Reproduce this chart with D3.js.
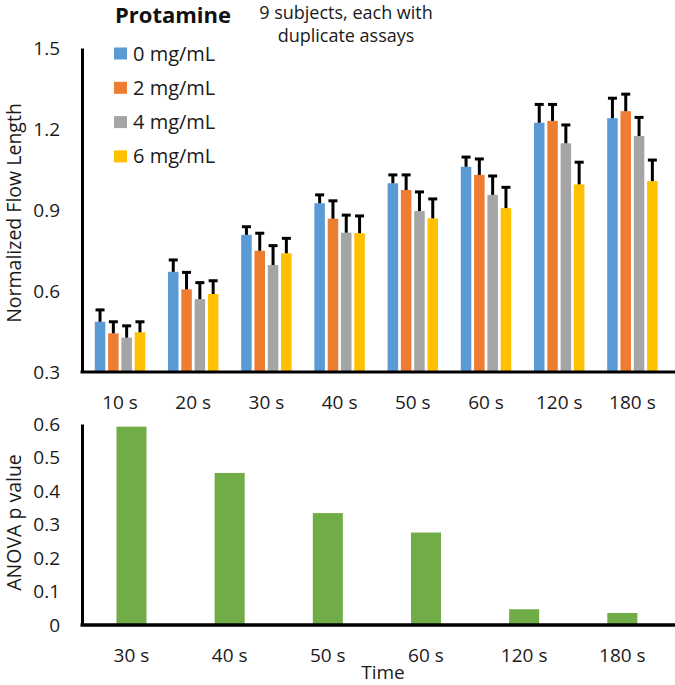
<!DOCTYPE html>
<html>
<head>
<meta charset="utf-8">
<script src="https://cdn.jsdelivr.net/npm/d3@7"></script>
<style>
  html, body { margin: 0; padding: 0; background: #fff; }
  svg { display: block; font-family: "Open Sans", "Noto Sans", sans-serif; }
</style>
</head>
<body>
<svg id="chart" width="675" height="685"></svg>
<script>
// ---------- DATA ----------
const categories = ["10 s", "20 s", "30 s", "40 s", "50 s", "60 s", "120 s", "180 s"];
const seriesNames = ["0 mg/mL", "2 mg/mL", "4 mg/mL", "6 mg/mL"];
const seriesColors = ["#5B9BD5", "#ED7D31", "#A5A5A5", "#FFC000"];
const mean0 = [0.486, 0.671, 0.808, 0.925, 0.999, 1.060, 1.223, 1.240];
const mean2 = [0.443, 0.606, 0.749, 0.868, 0.974, 1.030, 1.230, 1.266];
const mean4 = [0.427, 0.570, 0.696, 0.816, 0.896, 0.956, 1.147, 1.174];
const mean6 = [0.447, 0.589, 0.740, 0.814, 0.869, 0.907, 0.995, 1.007];
const err0 = [0.044, 0.044, 0.030, 0.031, 0.031, 0.036, 0.068, 0.074];
const err2 = [0.043, 0.063, 0.065, 0.066, 0.056, 0.059, 0.061, 0.063];
const err4 = [0.044, 0.061, 0.072, 0.065, 0.071, 0.070, 0.068, 0.069];
const err6 = [0.039, 0.049, 0.055, 0.064, 0.072, 0.077, 0.082, 0.078];
const topTicks = [0.3, 0.6, 0.9, 1.2, 1.5];

const pCategories = ["30 s", "40 s", "50 s", "60 s", "120 s", "180 s"];
const pValues = [0.592, 0.454, 0.334, 0.276, 0.047, 0.036];
const pTicks = [0, 0.1, 0.2, 0.3, 0.4, 0.5, 0.6];
const pColor = "#70AD47";

const means = [mean0, mean2, mean4, mean6];
const errs = [err0, err2, err4, err6];

// ---------- LAYOUT ----------
const W = 675;
const svg = d3.select("#chart");
const axisX = 82;

// ---------- TOP CHART ----------
const yTop = d3.scaleLinear().domain([0.3, 1.5]).range([372, 48]);
const x0 = d3.scaleBand().domain(categories).range([83.4, 669])
  .paddingInner(0.311).paddingOuter(0.1555);
const x1 = d3.scaleBand().domain(seriesNames).range([0, x0.bandwidth()])
  .paddingInner(0.21).paddingOuter(0);

const gTop = svg.append("g");
const groups = gTop.selectAll("g.grp").data(categories).join("g")
  .attr("transform", d => `translate(${x0(d)},0)`);

groups.each(function(cat, ci) {
  const g = d3.select(this);
  seriesNames.forEach((s, si) => {
    const v = means[si][ci];
    const e = errs[si][ci];
    const bx = x1(s);
    const bw = x1.bandwidth();
    g.append("rect")
      .attr("x", bx).attr("width", bw)
      .attr("y", yTop(v)).attr("height", yTop(0.3) - yTop(v))
      .attr("fill", seriesColors[si]);
    const cx = bx + bw / 2;
    g.append("line")
      .attr("x1", cx).attr("x2", cx)
      .attr("y1", yTop(v)).attr("y2", yTop(v + e))
      .attr("stroke", "#000").attr("stroke-width", 3);
    g.append("line")
      .attr("x1", cx - 4.5).attr("x2", cx + 4.5)
      .attr("y1", yTop(v + e)).attr("y2", yTop(v + e))
      .attr("stroke", "#000").attr("stroke-width", 3);
  });
});

// y axis (top)
const yAxTop = gTop.append("g").attr("transform", `translate(${axisX},0)`)
  .call(d3.axisLeft(yTop).tickValues(topTicks).tickFormat(d3.format(".1f"))
    .tickSize(0).tickPadding(22));
yAxTop.select(".domain").attr("stroke", "#000").attr("stroke-width", 3);
yAxTop.selectAll("text").attr("font-size", 19).attr("fill", "#1a1a1a")
  .attr("font-family", "Open Sans");

// x axis (top)
const xAxTop = gTop.append("g").attr("transform", `translate(0,${yTop(0.3)})`)
  .call(d3.axisBottom(x0).tickSize(0).tickPadding(24));
xAxTop.select(".domain").remove();
xAxTop.selectAll("text").attr("font-size", 19).attr("fill", "#1a1a1a")
  .attr("font-family", "Open Sans");
gTop.append("line")
  .attr("x1", axisX - 1.5).attr("x2", W)
  .attr("y1", yTop(0.3)).attr("y2", yTop(0.3))
  .attr("stroke", "#000").attr("stroke-width", 3);

// y title top
gTop.append("text")
  .attr("transform", `translate(20.5,${(yTop(0.3) + yTop(1.5)) / 2 + 3}) rotate(-90)`)
  .attr("text-anchor", "middle")
  .attr("font-size", 19.5).attr("fill", "#1a1a1a")
  .text("Normalized Flow Length");

// legend
const leg = svg.append("g");
leg.append("text").attr("x", 115).attr("y", 23)
  .attr("font-size", 22).attr("font-weight", "bold").attr("fill", "#111")
  .text("Protamine");
seriesNames.forEach((s, i) => {
  const cy = 53.5 + i * 34.3;
  leg.append("rect").attr("x", 114).attr("y", cy - 6).attr("width", 13).attr("height", 12)
    .attr("fill", seriesColors[i]);
  leg.append("text").attr("x", 133).attr("y", cy + 7)
    .attr("font-size", 20).attr("fill", "#1a1a1a").text(s);
});

// note
const note = svg.append("text").attr("text-anchor", "middle")
  .attr("font-size", 18).attr("fill", "#1a1a1a");
note.append("tspan").attr("x", 346).attr("y", 19).text("9 subjects, each with");
note.append("tspan").attr("x", 346).attr("y", 42).text("duplicate assays");

// ---------- BOTTOM CHART ----------
const yBot = d3.scaleLinear().domain([0, 0.6]).range([625, 424]);
const xBot = d3.scaleBand().domain(pCategories).range([82.4, 671.4])
  .paddingInner(0.694).paddingOuter(0.347);

const gBot = svg.append("g");
gBot.selectAll("rect").data(pValues).join("rect")
  .attr("x", (d, i) => xBot(pCategories[i]))
  .attr("width", xBot.bandwidth())
  .attr("y", d => yBot(d))
  .attr("height", d => yBot(0) - yBot(d))
  .attr("fill", pColor);

const yAxBot = gBot.append("g").attr("transform", `translate(${axisX},0)`)
  .call(d3.axisLeft(yBot).tickValues(pTicks)
    .tickFormat(d => d === 0 ? "0" : d3.format(".1f")(d))
    .tickSize(0).tickPadding(22));
yAxBot.select(".domain").attr("stroke", "#000").attr("stroke-width", 3);
yAxBot.selectAll("text").attr("font-size", 19).attr("fill", "#1a1a1a")
  .attr("font-family", "Open Sans");

const xAxBot = gBot.append("g").attr("transform", `translate(0,${yBot(0)})`)
  .call(d3.axisBottom(xBot).tickSize(0).tickPadding(24));
xAxBot.select(".domain").remove();
xAxBot.selectAll("text").attr("font-size", 19).attr("fill", "#1a1a1a")
  .attr("font-family", "Open Sans");
gBot.append("line")
  .attr("x1", axisX - 1.5).attr("x2", W)
  .attr("y1", yBot(0)).attr("y2", yBot(0))
  .attr("stroke", "#000").attr("stroke-width", 3.5);

gBot.append("text")
  .attr("transform", `translate(20.5,${(yBot(0) + yBot(0.6)) / 2 - 2}) rotate(-90)`)
  .attr("text-anchor", "middle")
  .attr("font-size", 19.5).attr("fill", "#1a1a1a")
  .text("ANOVA p value");

gBot.append("text").attr("x", 383).attr("y", 679)
  .attr("text-anchor", "middle").attr("font-size", 19).attr("fill", "#1a1a1a")
  .text("Time");
</script>
</body>
</html>
